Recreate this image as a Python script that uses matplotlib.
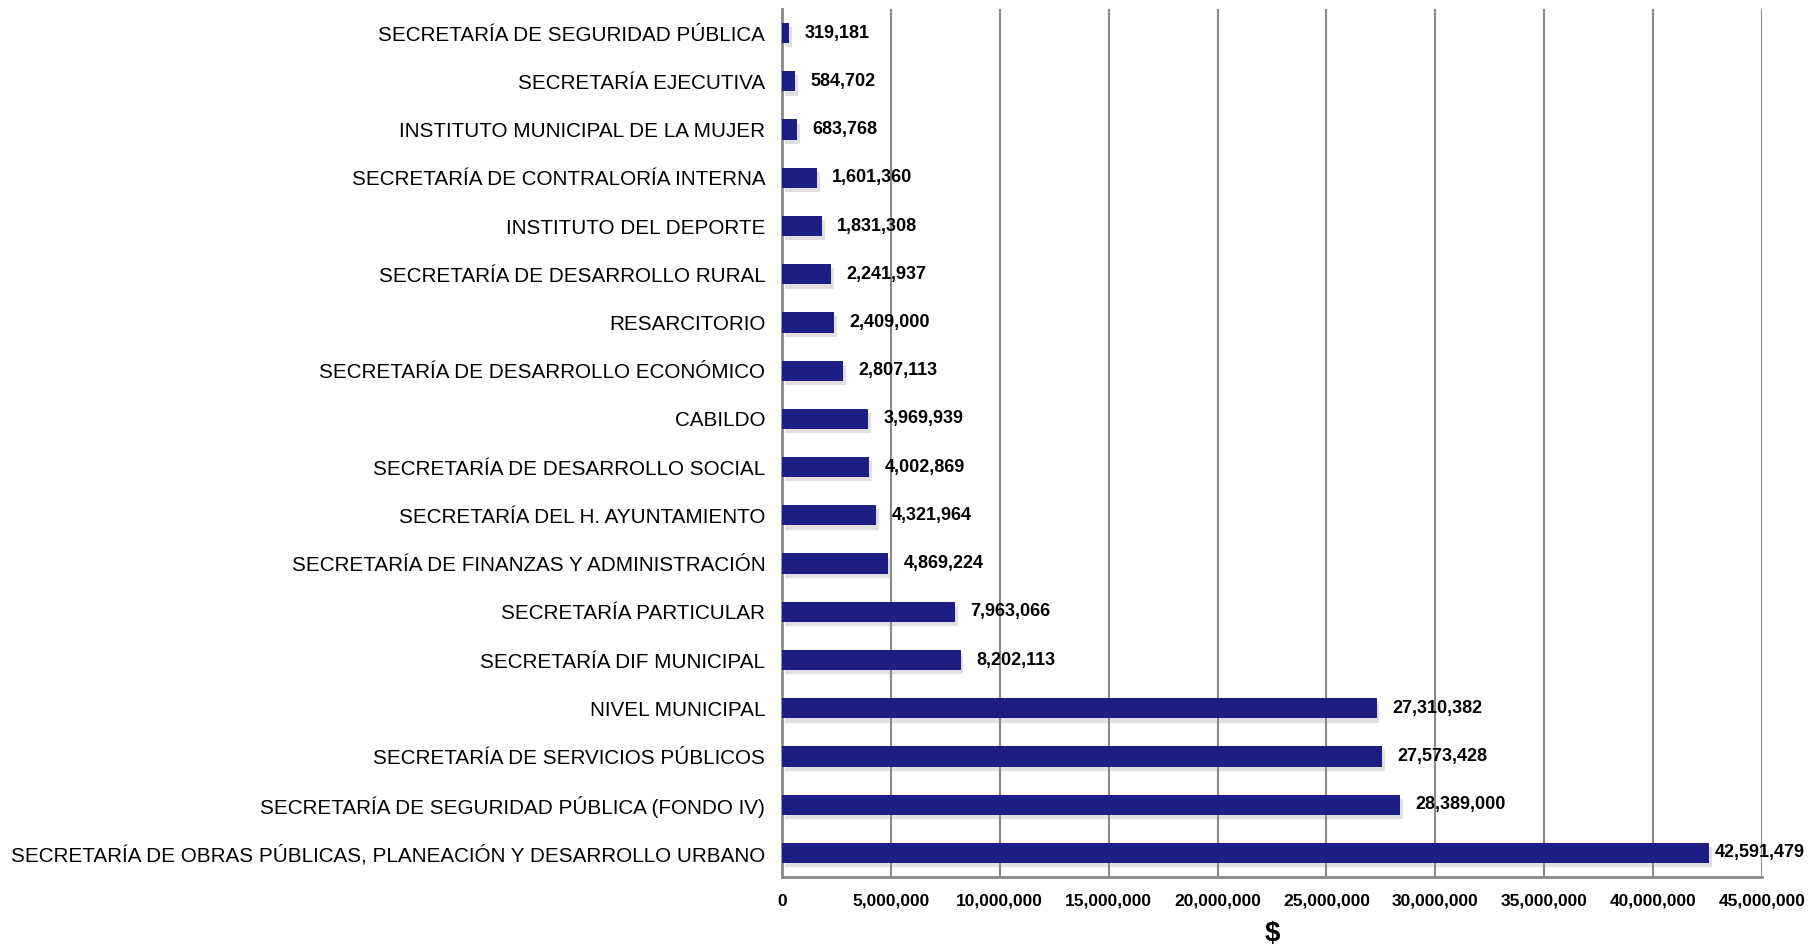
import matplotlib.pyplot as plt
import matplotlib.patheffects as pe
from matplotlib.ticker import FuncFormatter

plt.rcParams['font.family'] = ['Liberation Sans', 'DejaVu Sans']

# dependencias, de arriba hacia abajo
dependencias = [
    'SECRETARÍA DE SEGURIDAD PÚBLICA',
    'SECRETARÍA EJECUTIVA',
    'INSTITUTO MUNICIPAL DE LA MUJER',
    'SECRETARÍA DE CONTRALORÍA INTERNA',
    'INSTITUTO DEL DEPORTE',
    'SECRETARÍA DE DESARROLLO RURAL',
    'RESARCITORIO',
    'SECRETARÍA DE DESARROLLO ECONÓMICO',
    'CABILDO',
    'SECRETARÍA DE DESARROLLO SOCIAL',
    'SECRETARÍA DEL H. AYUNTAMIENTO',
    'SECRETARÍA DE FINANZAS Y ADMINISTRACIÓN',
    'SECRETARÍA PARTICULAR',
    'SECRETARÍA DIF MUNICIPAL',
    'NIVEL MUNICIPAL',
    'SECRETARÍA DE SERVICIOS PÚBLICOS',
    'SECRETARÍA DE SEGURIDAD PÚBLICA (FONDO IV)',
    'SECRETARÍA DE OBRAS PÚBLICAS, PLANEACIÓN Y DESARROLLO URBANO',
]
montos = [319181, 584702, 683768, 1601360, 1831308, 2241937, 2409000,
          2807113, 3969939, 4002869, 4321964, 4869224, 7963066, 8202113,
          27310382, 27573428, 28389000, 42591479]
x_ticks = list(range(0, 45000001, 5000000))

fig = plt.figure(figsize=(18.11, 9.47), dpi=100)
ax = fig.add_axes([0.4318, 0.0739, 0.5411, 0.9166])

pos = range(len(dependencias))
bars = ax.barh(pos, montos, height=0.42, color='#1d1d86', zorder=3)
for b in bars:
    b.set_path_effects([pe.SimplePatchShadow(offset=(2, -3), shadow_rgbFace='#999999', alpha=0.3),
                        pe.Normal()])

for p, v in zip(pos, montos):
    # la etiqueta de la barra mas larga queda mas pegada (no cabe)
    off = 3.5 if v == max(montos) else 11
    ax.annotate(f'{v:,}', xy=(v, p), xytext=(off, 0), textcoords='offset points',
                ha='left', va='center', fontsize=13, fontweight='bold', zorder=4)

ax.set_ylim(len(dependencias) - 0.5, -0.5)
ax.set_xlim(0, 45000000)
ax.set_yticks(list(pos))
ax.set_yticklabels(dependencias, fontsize=14.85)
ax.set_xticks(x_ticks)
ax.xaxis.set_major_formatter(FuncFormatter(lambda v, _: f'{int(v):,}'))
for lbl in ax.get_xticklabels():
    lbl.set_fontweight('bold')
    lbl.set_fontsize(12.5)
ax.tick_params(axis='x', length=0, pad=12)
ax.tick_params(axis='y', length=0, pad=12)

ax.grid(axis='x', color='#8a8a8a', linewidth=1.5, zorder=0)
ax.spines['top'].set_visible(False)
ax.spines['right'].set_visible(False)
for s in ('left', 'bottom'):
    ax.spines[s].set_color('#8a8a8a')
    ax.spines[s].set_linewidth(2)

ax.set_xlabel('$', fontsize=20, fontweight='bold', labelpad=9)

fig.savefig('out.png', dpi=100)
